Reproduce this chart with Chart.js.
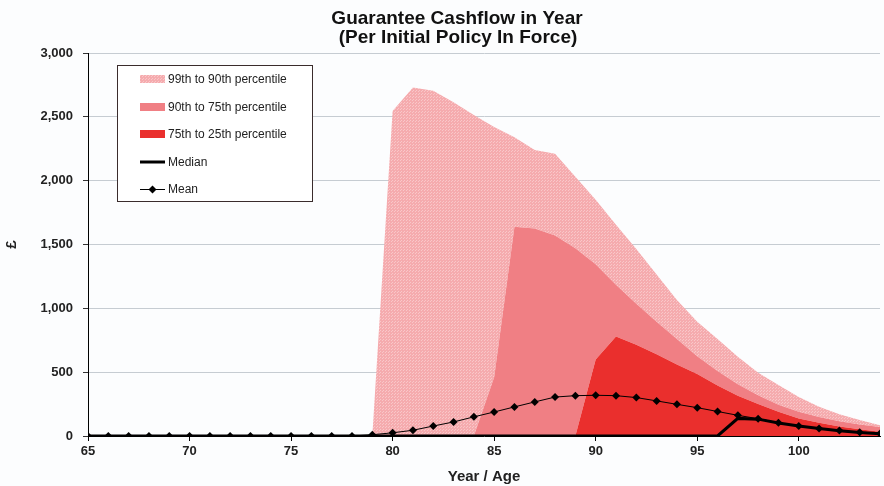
<!DOCTYPE html>
<html>
<head>
<meta charset="utf-8">
<script src="https://cdn.jsdelivr.net/npm/chart.js@4.4.1/dist/chart.umd.min.js"></script>
<style>
  html, body { margin: 0; padding: 0; background: #fcfdfe; }
  #wrap { width: 884px; height: 486px; position: relative; }
</style>
</head>
<body>
<div id="wrap"><canvas id="chart" width="884" height="486"></canvas></div>
<script>
// Policy year / attained age
const years = [65, 66, 67, 68, 69, 70, 71, 72, 73, 74, 75, 76, 77, 78, 79, 80, 81, 82, 83, 84,
               85, 86, 87, 88, 89, 90, 91, 92, 93, 94, 95, 96, 97, 98, 99, 100, 101, 102, 103, 104];

// Guarantee cashflow percentiles (£ per initial policy in force)
const p99 = [0, 0, 0, 0, 0, 0, 0, 0, 0, 0, 0, 0, 0, 0, 0,
             2545, 2730, 2705, 2615, 2515, 2420, 2340, 2240, 2210, 2030, 1850, 1655, 1465, 1265, 1065,
             895, 760, 620, 495, 400, 305, 230, 170, 125, 85];
const p90 = [0, 0, 0, 0, 0, 0, 0, 0, 0, 0, 0, 0, 0, 0, 0, 0, 0, 0, 0, 0,
             460, 1640, 1625, 1570, 1470, 1345, 1185, 1035, 895, 760,
             625, 510, 405, 320, 245, 190, 148, 115, 90, 70];
const p75 = [0, 0, 0, 0, 0, 0, 0, 0, 0, 0, 0, 0, 0, 0, 0, 0, 0, 0, 0, 0, 0, 0, 0, 0, 0,
             600, 780, 715, 640, 560, 485, 395, 315, 250, 190, 138, 104, 74, 52, 34];
const p25 = [0, 0, 0, 0, 0, 0, 0, 0, 0, 0, 0, 0, 0, 0, 0, 0, 0, 0, 0, 0,
             0, 0, 0, 0, 0, 0, 0, 0, 0, 0, 0, 0, 0, 0, 0, 0, 0, 0, 0, 0];
const median = [0, 0, 0, 0, 0, 0, 0, 0, 0, 0, 0, 0, 0, 0, 0, 0, 0, 0, 0, 0,
                0, 0, 0, 0, 0, 0, 0, 0, 0, 0, 0, 0, 138, 132, 102, 78, 59, 42, 28, 18];
const mean = [0, 0, 0, 0, 0, 0, 0, 0, 0, 0, 0, 0, 0, 0,
              10, 25, 45, 78, 110, 150, 188, 228, 267, 305, 316, 319, 316, 301, 275, 248,
              222, 192, 162, 135, 104, 78, 59, 43, 29, 19];

const titleLines = ['Guarantee Cashflow in Year', '(Per Initial Policy In Force)'];
const bandLabels = ['99th to 90th percentile', '90th to 75th percentile', '75th to 25th percentile'];
const lineLabels = ['Median', 'Mean'];

const pts = arr => arr.map((v, i) => ({ x: years[i], y: v }));

// Fine, low-contrast speckle for the outer band
function speckledPattern() {
  const c = document.createElement('canvas');
  c.width = 3; c.height = 3;
  const g = c.getContext('2d');
  g.fillStyle = '#f5abae'; g.fillRect(0, 0, 3, 3);
  g.fillStyle = '#f9c7c9'; g.fillRect(1, 1, 1, 1); g.fillRect(2, 0, 1, 1);
  return g.createPattern(c, 'repeat');
}
const ctx = document.getElementById('chart').getContext('2d');
const lightFill = speckledPattern();
const midFill = '#f07f84';
const darkFill = '#ea2f2d';

const FONT = "'Liberation Sans', Arial, sans-serif";

// Two-line chart heading
const headingPlugin = {
  id: 'heading',
  afterDraw(chart) {
    const c = chart.ctx;
    c.save();
    c.fillStyle = '#111';
    c.font = 'bold 19px ' + FONT;
    c.textAlign = 'center';
    c.textBaseline = 'alphabetic';
    c.fillText(titleLines[0], 457, 24);
    c.fillText(titleLines[1], 458, 43);
    c.restore();
  }
};

// Boxed legend inside the plot area
const boxLegendPlugin = {
  id: 'boxLegend',
  afterDraw(chart) {
    const c = chart.ctx;
    c.save();
    const x0 = 117.5, y0 = 65.5, w = 195, h = 136;
    c.fillStyle = '#ffffff';
    c.fillRect(x0, y0, w, h);
    c.strokeStyle = '#3a2c2c';
    c.lineWidth = 1;
    c.strokeRect(x0, y0, w, h);
    const rows = [79, 107, 134, 162, 189];
    const sx = 140, sw = 25, tx = 168;
    c.font = '12px ' + FONT;
    c.textBaseline = 'middle';
    c.textAlign = 'left';
    const fills = [lightFill, midFill, darkFill];
    for (let i = 0; i < 3; i++) {
      c.fillStyle = fills[i];
      c.fillRect(sx, rows[i] - 4, sw, 8);
      c.fillStyle = '#222';
      c.fillText(bandLabels[i], tx, rows[i] + 1);
    }
    // Median
    c.strokeStyle = '#000';
    c.lineWidth = 3;
    c.beginPath(); c.moveTo(sx, rows[3]); c.lineTo(sx + sw, rows[3]); c.stroke();
    c.fillStyle = '#222';
    c.fillText(lineLabels[0], tx, rows[3] + 1);
    // Mean
    c.lineWidth = 1;
    c.beginPath(); c.moveTo(sx, rows[4] + 0.5); c.lineTo(sx + sw, rows[4] + 0.5); c.stroke();
    c.fillStyle = '#000';
    c.beginPath();
    const mx = sx + sw / 2, my = rows[4] + 0.5;
    c.moveTo(mx, my - 4); c.lineTo(mx + 4, my); c.lineTo(mx, my + 4); c.lineTo(mx - 4, my); c.closePath();
    c.fill();
    c.fillStyle = '#222';
    c.fillText(lineLabels[1], tx, rows[4] + 1);
    c.restore();
  }
};

new Chart(ctx, {
  type: 'line',
  data: {
    datasets: [
      { label: lineLabels[1], data: pts(mean), borderColor: '#000', borderWidth: 1,
        pointStyle: 'rectRot', pointRadius: 4, pointBackgroundColor: '#000', pointBorderWidth: 0,
        fill: false, tension: 0 },
      { label: lineLabels[0], data: pts(median), borderColor: '#000', borderWidth: 3,
        pointRadius: 0, fill: false, tension: 0 },
      { label: bandLabels[2], data: pts(p75), borderWidth: 0, borderColor: 'rgba(0,0,0,0)',
        pointRadius: 0, backgroundColor: darkFill, fill: 5, tension: 0 },
      { label: bandLabels[1], data: pts(p90), borderWidth: 0, borderColor: 'rgba(0,0,0,0)',
        pointRadius: 0, backgroundColor: midFill, fill: 2, tension: 0 },
      { label: bandLabels[0], data: pts(p99), borderWidth: 0, borderColor: 'rgba(0,0,0,0)',
        pointRadius: 0, backgroundColor: lightFill, fill: 3, tension: 0 },
      { label: '25th percentile', data: pts(p25), borderWidth: 0, borderColor: 'rgba(0,0,0,0)',
        pointRadius: 0, fill: false, tension: 0 }
    ]
  },
  options: {
    responsive: false,
    animation: false,
    events: [],
    layout: { padding: { top: 53, right: 0, bottom: 0, left: 0 } },
    plugins: {
      legend: { display: false },
      tooltip: { enabled: false },
      title: { display: false }
    },
    scales: {
      x: {
        type: 'linear',
        min: 65,
        max: 104,
        afterFit(scale) { scale.height = 50; },
        ticks: {
          stepSize: 5,
          includeBounds: false,
          color: '#222',
          padding: 3,
          font: { family: FONT, size: 13, weight: 'bold' },
          maxRotation: 0
        },
        grid: { drawOnChartArea: false, tickLength: 5, tickColor: '#000', lineWidth: 1 },
        border: { color: '#000', width: 1 },
        title: {
          display: true,
          text: 'Year / Age',
          color: '#222',
          font: { family: FONT, size: 15, weight: 'bold' },
          padding: { top: 0, bottom: 0 }
        }
      },
      y: {
        min: 0,
        max: 3000,
        afterFit(scale) { scale.width = 88; },
        ticks: {
          stepSize: 500,
          color: '#222',
          padding: 10,
          font: { family: FONT, size: 13, weight: 'bold' },
          callback: v => v.toLocaleString('en-GB')
        },
        grid: { color: '#c6ccd2', tickColor: '#333', tickLength: 5, lineWidth: 1 },
        border: { color: '#000', width: 1 },
        title: {
          display: true,
          text: '£',
          color: '#222',
          font: { family: FONT, size: 15, weight: 'bold' },
          padding: { top: 3, bottom: 0 }
        }
      }
    }
  },
  plugins: [headingPlugin, boxLegendPlugin]
});
</script>
</body>
</html>
